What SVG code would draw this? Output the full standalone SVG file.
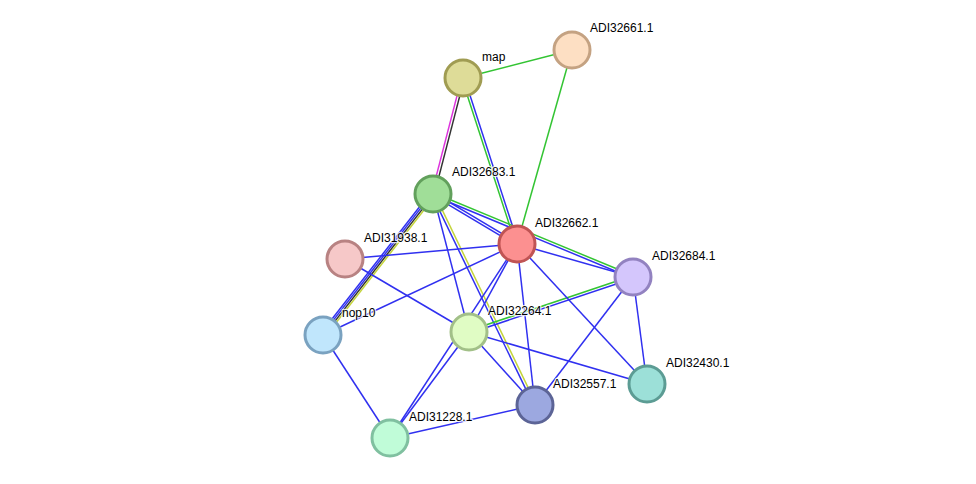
<svg xmlns="http://www.w3.org/2000/svg" width="976" height="484" viewBox="0 0 976 484">
<style>
.e{fill:none;stroke-width:1.5}
.b{stroke:#3030f0}.g{stroke:#33c433}.m{stroke:#dd33dd}.k{stroke:#333333}.y{stroke:#c4d43c}
.n circle{stroke-width:3}
text{font-family:"Liberation Sans",Arial,sans-serif;font-size:12px;fill:#000;stroke:#fff;stroke-width:2.5;stroke-opacity:0.8;paint-order:stroke;stroke-linejoin:round}
</style>
<rect width="976" height="484" fill="#fff"/>
<g id="edges">
<line class="e g" x1="463" y1="78" x2="572" y2="50"/>
<line class="e g" x1="572" y1="50" x2="517" y2="244"/>
<line class="e m" x1="461.7" y1="77.6" x2="431.7" y2="193.6"/>
<line class="e k" x1="464.3" y1="78.4" x2="434.3" y2="194.4"/>
<line class="e g" x1="461.8" y1="78.4" x2="515.8" y2="244.4"/>
<line class="e b" x1="464.2" y1="77.6" x2="518.2" y2="243.6"/>
<line class="e g" x1="433.5" y1="192.8" x2="633.5" y2="275.8"/>
<line class="e b" x1="432.5" y1="195.2" x2="632.5" y2="278.2"/>
<line class="e b" x1="433.7" y1="192.9" x2="517.7" y2="242.9"/>
<line class="e b" x1="432.3" y1="195.1" x2="516.3" y2="245.1"/>
<line class="e b" x1="430.9" y1="192.3" x2="320.9" y2="333.3"/>
<line class="e b" x1="432.3" y1="193.4" x2="322.3" y2="334.4"/>
<line class="e k" x1="433.7" y1="194.6" x2="323.7" y2="335.6"/>
<line class="e y" x1="435.1" y1="195.7" x2="325.1" y2="336.7"/>
<line class="e b" x1="431.8" y1="194.6" x2="533.8" y2="405.6"/>
<line class="e y" x1="434.2" y1="193.4" x2="536.2" y2="404.4"/>
<line class="e b" x1="433" y1="194" x2="469" y2="332"/>
<line class="e g" x1="468.6" y1="330.8" x2="632.6" y2="275.8"/>
<line class="e b" x1="469.4" y1="333.2" x2="633.4" y2="278.2"/>
<line class="e b" x1="345" y1="259" x2="517" y2="244"/>
<line class="e b" x1="345" y1="259" x2="469" y2="332"/>
<line class="e b" x1="323" y1="335" x2="517" y2="244"/>
<line class="e b" x1="323" y1="335" x2="390" y2="438"/>
<line class="e b" x1="517" y1="244" x2="469" y2="332"/>
<line class="e b" x1="517" y1="244" x2="390" y2="438"/>
<line class="e b" x1="517" y1="244" x2="535" y2="405"/>
<line class="e b" x1="517" y1="244" x2="647" y2="384"/>
<line class="e b" x1="517" y1="244" x2="633" y2="277"/>
<line class="e b" x1="469" y1="332" x2="647" y2="384"/>
<line class="e b" x1="469" y1="332" x2="535" y2="405"/>
<line class="e b" x1="469" y1="332" x2="390" y2="438"/>
<line class="e b" x1="633" y1="277" x2="535" y2="405"/>
<line class="e b" x1="633" y1="277" x2="647" y2="384"/>
<line class="e b" x1="535" y1="405" x2="390" y2="438"/>
</g>
<g id="map" class="n"><circle cx="463" cy="78" r="18" fill="#dedc98" stroke="#a09c52"/><text x="482" y="61">map</text></g>
<g id="ADI32661.1" class="n"><circle cx="572" cy="50" r="18" fill="#fddfc3" stroke="#c4a282"/><text x="590" y="32">ADI32661.1</text></g>
<g id="ADI32683.1" class="n"><circle cx="433" cy="194" r="18" fill="#a0de98" stroke="#62a05c"/><text x="452" y="176">ADI32683.1</text></g>
<g id="ADI32662.1" class="n"><circle cx="517" cy="244" r="18" fill="#fc9090" stroke="#c05454"/><text x="535" y="227">ADI32662.1</text></g>
<g id="ADI31938.1" class="n"><circle cx="345" cy="259" r="18" fill="#f6c8c8" stroke="#b88282"/><text x="364" y="242">ADI31938.1</text></g>
<g id="ADI32684.1" class="n"><circle cx="633" cy="277" r="18" fill="#d4c6fc" stroke="#9282c0"/><text x="652" y="260">ADI32684.1</text></g>
<g id="nop10" class="n"><circle cx="323" cy="335" r="18" fill="#c0e6fc" stroke="#7aa2c0"/><text x="342" y="317">nop10</text></g>
<g id="ADI32264.1" class="n"><circle cx="469" cy="332" r="18" fill="#e0fcc4" stroke="#a2c088"/><text x="488" y="315">ADI32264.1</text></g>
<g id="ADI32430.1" class="n"><circle cx="647" cy="384" r="18" fill="#9ce0d8" stroke="#5c9c94"/><text x="666" y="367">ADI32430.1</text></g>
<g id="ADI32557.1" class="n"><circle cx="535" cy="405" r="18" fill="#9ca8e0" stroke="#5c6496"/><text x="553" y="388">ADI32557.1</text></g>
<g id="ADI31228.1" class="n"><circle cx="390" cy="438" r="18" fill="#c0fcd8" stroke="#80c0a0"/><text x="409" y="421">ADI31228.1</text></g>
</svg>
